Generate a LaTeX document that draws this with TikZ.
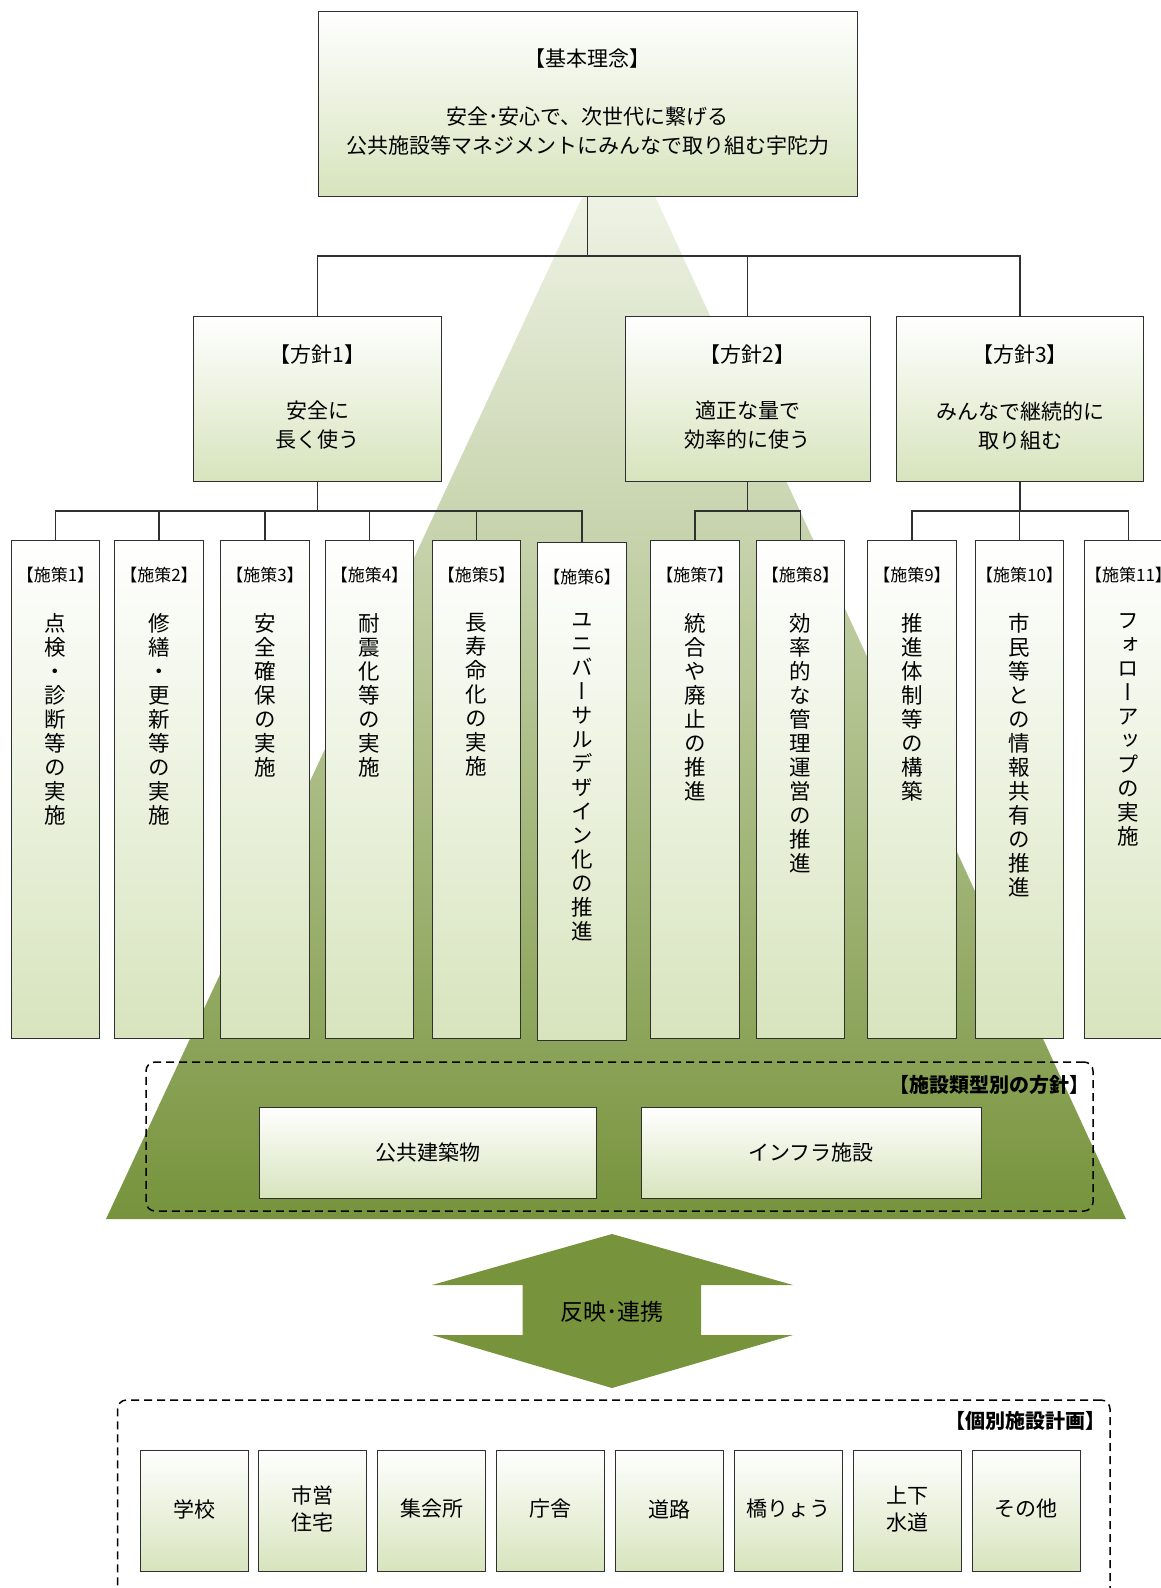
\documentclass[tikz,border=0pt]{standalone}
\usepackage{fontspec}
\newfontfamily\jp{Noto Sans CJK JP}
\newfontfamily\jpv[RawFeature=+vert]{Noto Sans CJK JP}
\definecolor{boxg}{HTML}{D7E4BD}
\definecolor{olivedk}{HTML}{77933C}
\definecolor{pyrtop}{HTML}{F7FAF1}
\definecolor{pyrmid}{HTML}{C3D49E}
\definecolor{linec}{HTML}{303030}
\tikzset{
  box/.style={draw=linec, line width=1pt, top color=white, bottom color=boxg, inner sep=0pt, rectangle},
  conn/.style={draw=linec, line width=1.5pt},
  jt/.style={font=\jp\fontsize{21pt}{28.5pt}\selectfont, inner sep=0pt, align=center},
  jt2/.style={font=\jp\fontsize{21pt}{29pt}\selectfont, inner sep=0pt, align=center},
  hdr/.style={font=\jp\fontsize{17pt}{19pt}\selectfont, inner sep=0pt},
  vt/.style={font=\jpv\fontsize{21.5pt}{24pt}\selectfont, inner sep=0pt, align=center},
  dbox/.style={draw=black, line width=1.5pt, dash pattern=on 8pt off 5pt, rounded corners=9pt, inner sep=0pt, rectangle},
  blab/.style={font=\jp\bfseries\fontsize{20pt}{22pt}\selectfont, inner sep=0pt},
}
\newcommand\shisaku[6]{% name, cx, top, header, vtext, offset
  \node[box, minimum width=88.5pt, minimum height=498pt, anchor=north] (#1) at (#2,#3) {};
  \node[hdr] (#1h) at (#2,#3+35) {#4};
  \node[vt, anchor=north] (#1t) at (#2,#3+#6) {#5};
}
\begin{document}
\begin{tikzpicture}[x=1pt,y=-1pt]
\useasboundingbox (0,0) rectangle (1161,1588);
% pyramid
\shade[top color=pyrtop, middle color=pyrmid, bottom color=olivedk] (619,118) -- (1126,1219) -- (106,1219) -- cycle;

\coordinate (hub0) at (587.5,256);
\coordinate (hub1) at (317.6,511);
\coordinate (hub2) at (747.6,511);
\coordinate (hub3) at (1020,511);

% top box
\node[box, minimum width=539pt, minimum height=185pt] (top) at (587.5,103.5) {};
\node[jt] (topa) at (587.5,59) {【基本理念】};
\node[jt] (topb) at (587.5,131) {安全･安心で、次世代に繋げる\\公共施設等マネジメントにみんなで取り組む宇陀力};

% policy boxes
\node[box, minimum width=248pt, minimum height=165pt] (p1) at (317.6,398.5) {};
\node[box, minimum width=245pt, minimum height=165pt] (p2) at (747.6,398.5) {};
\node[box, minimum width=247pt, minimum height=165pt] (p3) at (1020,398.5) {};
\node[jt] (p1a) at (317.6,354.5) {【方針1】};
\node[jt2] (p1b) at (317.6,425.5) {安全に\\長く使う};
\node[jt] (p2a) at (747.6,354.5) {【方針2】};
\node[jt2] (p2b) at (747.6,425.5) {適正な量で\\効率的に使う};
\node[jt] (p3a) at (1020,354.5) {【方針3】};
\node[jt2] (p3b) at (1020,425.5) {みんなで継続的に\\取り組む};

% measure boxes
\shisaku{s1}{55.5}{540}{【施策1】}{点\\検\\・\\診\\断\\等\\の\\実\\施}{73}
\shisaku{s2}{159}{540}{【施策2】}{修\\繕\\・\\更\\新\\等\\の\\実\\施}{73}
\shisaku{s3}{265}{540}{【施策3】}{安\\全\\確\\保\\の\\実\\施}{73}
\shisaku{s4}{369.5}{540}{【施策4】}{耐\\震\\化\\等\\の\\実\\施}{73}
\shisaku{s5}{476.5}{540}{【施策5】}{長\\寿\\命\\化\\の\\実\\施}{73}
\shisaku{s6}{582}{542}{【施策6】}{ユ\\ニ\\バ\\ー\\サ\\ル\\デ\\ザ\\イ\\ン\\化\\の\\推\\進}{71}
\shisaku{s7}{695}{540}{【施策7】}{統\\合\\や\\廃\\止\\の\\推\\進}{73}
\shisaku{s8}{800.5}{540}{【施策8】}{効\\率\\的\\な\\管\\理\\運\\営\\の\\推\\進}{73}
\shisaku{s9}{912}{540}{【施策9】}{推\\進\\体\\制\\等\\の\\構\\築}{73}
\shisaku{s10}{1019.5}{540}{【施策10】}{市\\民\\等\\と\\の\\情\\報\\共\\有\\の\\推\\進}{73}
\shisaku{s11}{1128.5}{540}{【施策11】}{フ\\ォ\\ロ\\ー\\ア\\ッ\\プ\\の\\実\\施}{73}

% connectors
\draw[conn] (top.south) -- (hub0);
\draw[conn] (p1.north) -- (p1.north |- hub0) -- (p3.north |- hub0) -- (p3.north);
\draw[conn] (p2.north) -- (p2.north |- hub0);
\draw[conn] (p1.south) -- (hub1);
\draw[conn] (s1.north) -- (s1.north |- hub1) -- (s6.north |- hub1) -- (s6.north);
\foreach \s in {s2,s3,s4,s5} \draw[conn] (\s.north) -- (\s.north |- hub1);
\draw[conn] (p2.south) -- (hub2);
\draw[conn] (s7.north) -- (s7.north |- hub2) -- (s8.north |- hub2) -- (s8.north);
\draw[conn] (p3.south) -- (hub3);
\draw[conn] (s9.north) -- (s9.north |- hub3) -- (s11.north |- hub3) -- (s11.north);
\draw[conn] (s10.north) -- (s10.north |- hub3);

% type policy
\node[dbox, minimum width=947pt, minimum height=149pt] (dz1) at (619.5,1136.5) {};
\node[blab, anchor=east] (dz1l) at (1090,1085) {【施設類型別の方針】};
\node[box, minimum width=337pt, minimum height=91pt] (k1) at (427.5,1152.5) {};
\node[jt] (k1t) at (k1) {公共建築物};
\node[box, minimum width=340pt, minimum height=91pt] (k2) at (811,1152.5) {};
\node[jt] (k2t) at (k2) {インフラ施設};

% double arrow
\fill[olivedk] (612,1234) -- (793,1285) -- (701,1285) -- (701,1335) -- (793,1335) -- (612,1388)
  -- (432,1335) -- (522.5,1335) -- (522.5,1285) -- (432,1285) -- cycle;
\node[font=\jp\fontsize{23pt}{26pt}\selectfont, inner sep=0pt] (arr) at (612,1312) {反映･連携};

% individual plans
\node[dbox, minimum width=992.5pt, minimum height=220pt] (dz2) at (613.75,1510) {};
\node[blab, anchor=east] (dz2l) at (1106,1421) {【個別施設計画】};
\foreach \i/\t [count=\n from 0] in {b1/学校, b2/市営\\住宅, b3/集会所, b4/庁舎, b5/道路, b6/橋りょう, b7/上下\\水道, b8/その他} {
  \node[box, minimum width=108pt, minimum height=121pt] (\i) at (194+118.9*\n,1510.5) {};
  \node[jt2, font=\jp\fontsize{21pt}{27pt}\selectfont] (\i t) at (194+118.9*\n,1509) {\t};
}
\end{tikzpicture}
\end{document}
